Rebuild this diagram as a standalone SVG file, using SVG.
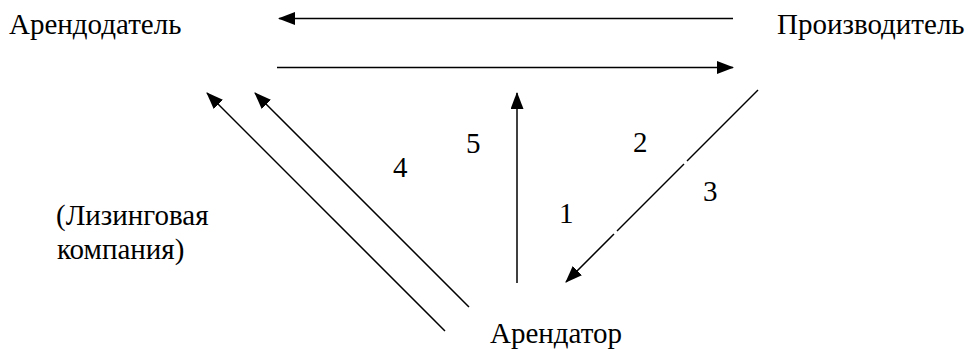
<svg xmlns="http://www.w3.org/2000/svg" width="971" height="350" viewBox="0 0 971 350">
<style>
.t{font-family:'Liberation Serif','Times New Roman',serif;font-size:29px;fill:#000}
.c{stroke:#000;stroke-width:1.5;fill:none}
</style>
<defs>
<marker id="ah" markerWidth="17" markerHeight="13" refX="16" refY="6.5" orient="auto" markerUnits="userSpaceOnUse">
<path d="M0,0 L17,6.5 L0,13 Z" fill="#000"/>
</marker>
</defs>
<rect width="971" height="350" fill="#fff"/>
<g id="lessor"><text class="t" x="9" y="34">Арендодатель</text></g>
<g id="producer"><text class="t" x="777" y="34">Производитель</text></g>
<g id="lessee"><text class="t" x="490" y="343">Арендатор</text></g>
<g id="note"><text class="t" x="56" y="225">(Лизинговая</text><text class="t" x="57" y="259">компания)</text></g>
<g id="connectors">
<line class="c" x1="733" y1="18.5" x2="279" y2="18.5" marker-end="url(#ah)"/>
<line class="c" x1="277" y1="67.5" x2="733" y2="67.5" marker-end="url(#ah)"/>
<line class="c" x1="445" y1="331" x2="207" y2="93" marker-end="url(#ah)"/>
<line class="c" x1="469" y1="307" x2="255" y2="93" marker-end="url(#ah)"/>
<line class="c" x1="517" y1="283" x2="517" y2="93" marker-end="url(#ah)"/>
<line class="c" x1="758" y1="90" x2="687" y2="161"/>
<line class="c" x1="684" y1="164" x2="617" y2="231"/>
<line class="c" x1="614" y1="234" x2="566" y2="282" marker-end="url(#ah)"/>
</g>
<g id="labels">
<text class="t" x="393" y="177">4</text>
<text class="t" x="466" y="153">5</text>
<text class="t" x="633" y="152">2</text>
<text class="t" x="703" y="201">3</text>
<text class="t" x="559" y="223">1</text>
</g>
</svg>
